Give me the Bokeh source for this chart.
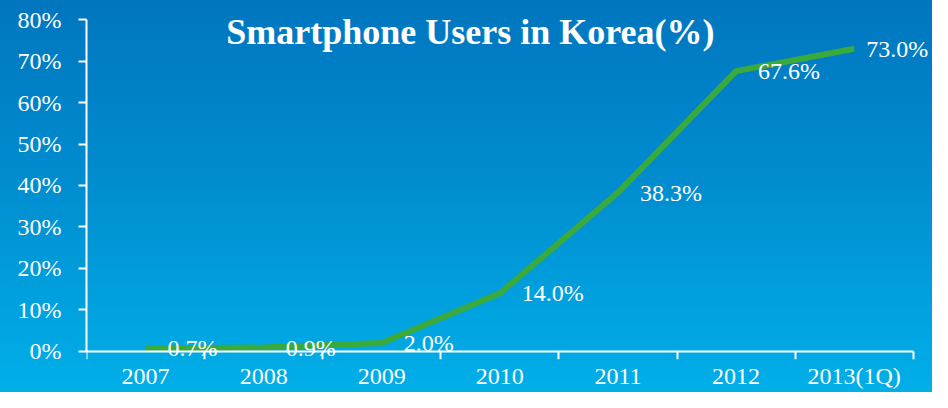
from bokeh.plotting import figure
from bokeh.models import (Range1d, FixedTicker, LinearAxis, PrintfTickFormatter,
                          ColumnDataSource, LabelSet, Label)
from bokeh.embed import file_html
from bokeh.resources import INLINE

# ---- data ----
years = ["2007", "2008", "2009", "2010", "2011", "2012", "2013(1Q)"]
users_pct = [0.7, 0.9, 2.0, 14.0, 38.3, 67.6, 73.0]
y_ticks = [0, 10, 20, 30, 40, 50, 60, 70, 80]
title_text = "Smartphone Users in Korea(%)"

SERIF = "Liberation Serif"
WHITE = "#FFFFFF"
GREEN = "#3AAA3C"
FS = "24px"

n = len(years)
xs = [i + 0.5 for i in range(n)]
labels = ["%.1f%%" % v for v in users_pct]

p = figure(width=932, height=392, output_backend="svg", toolbar_location=None,
           x_range=Range1d(0, 7.163), y_range=Range1d(-1.98, 82.22),
           x_axis_type=None, y_axis_type=None,
           min_border_left=86, min_border_right=0, min_border_top=10,
           min_border_bottom=33)
p.outline_line_color = None
p.background_fill_alpha = 0
p.border_fill_alpha = 0
p.grid.visible = False
p.styles = {"background": "linear-gradient(to bottom, #0076BF 0%, #008CCF 45%, #00AFE9 100%)"}

# y axis
yax = LinearAxis(ticker=FixedTicker(ticks=y_ticks),
                 formatter=PrintfTickFormatter(format="%d%%"),
                 bounds=(0, 80))
yax.axis_line_color = WHITE
yax.axis_line_width = 2
yax.major_tick_line_color = WHITE
yax.major_tick_line_width = 2
yax.major_tick_out = 8
yax.major_tick_in = 0
yax.minor_tick_line_color = None
yax.major_label_standoff = 17
yax.major_label_text_color = WHITE
yax.major_label_text_font = SERIF
yax.major_label_text_font_size = FS
p.add_layout(yax, "left")

# x axis line + boundary tick marks, fixed at y = 0 (ticks pointing down)
xline = LinearAxis(ticker=FixedTicker(ticks=[], minor_ticks=list(range(n + 1))),
                   fixed_location=0, bounds=(0, n))
xline.axis_line_color = WHITE
xline.axis_line_width = 2
xline.major_tick_line_color = None
xline.major_tick_out = 0
xline.major_tick_in = 0
xline.minor_tick_line_color = WHITE
xline.minor_tick_line_width = 2
xline.minor_tick_out = 0
xline.minor_tick_in = 8
xline.major_label_standoff = 0
xline.major_label_text_font_size = "0px"
p.add_layout(xline, "above")

# category labels at category centres
xlab = LinearAxis(ticker=FixedTicker(ticks=xs, minor_ticks=[]),
                  major_label_overrides={x: y for x, y in zip(xs, years)})
xlab.axis_line_color = None
xlab.major_tick_line_color = None
xlab.minor_tick_line_color = None
xlab.major_tick_out = 0
xlab.major_tick_in = 0
xlab.minor_tick_out = 0
xlab.minor_tick_in = 0
xlab.major_label_standoff = 3
xlab.major_label_text_color = WHITE
xlab.major_label_text_font = SERIF
xlab.major_label_text_font_size = FS
p.add_layout(xlab, "below")

# line
src = ColumnDataSource(dict(x=xs, y=users_pct, lab=labels,
                            off=[22] * (n - 1) + [12]))
p.line("x", "y", source=src, line_color=GREEN, line_width=6, line_join="round")

# data labels
p.add_layout(LabelSet(x="x", y="y", text="lab", source=src, x_offset="off",
                      text_align="left", text_baseline="middle",
                      text_color=WHITE, text_font=SERIF, text_font_size=FS))

# title inside plot area
p.add_layout(Label(x=3.25, y=77.1, text=title_text, text_align="center",
                   text_baseline="middle", text_color=WHITE, text_font=SERIF,
                   text_font_style="bold", text_font_size="36px"))

open("out.html", "w").write(file_html(p, INLINE))
